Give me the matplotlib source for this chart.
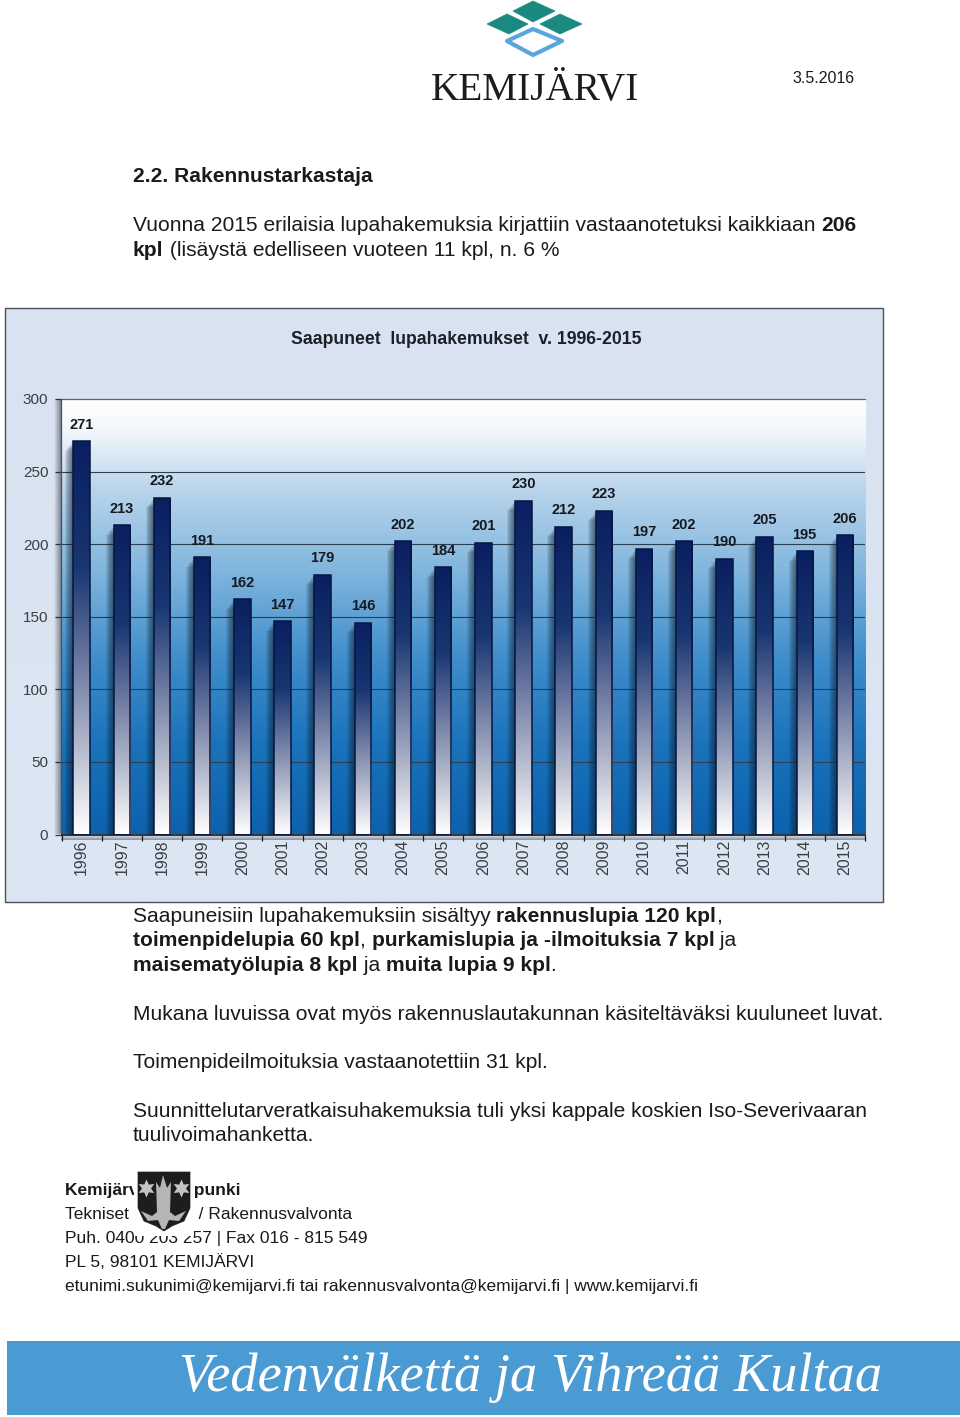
import numpy as np
import matplotlib
matplotlib.use("Agg")
import matplotlib.pyplot as plt
from matplotlib.colors import LinearSegmentedColormap
from matplotlib.patches import Polygon, Rectangle
from matplotlib.transforms import Affine2D

years = [str(y) for y in range(1996, 2016)]
permits = [271, 213, 232, 191, 162, 147, 179, 146, 202, 184, 201, 230, 212, 223, 197, 202, 190, 205, 195, 206]
yticks = [0, 50, 100, 150, 200, 250, 300]
chart_title = "Saapuneet  lupahakemukset  v. 1996-2015"

W, H = 960, 1417
SANS = "Liberation Sans"
fig = plt.figure(figsize=(W / 100, H / 100), dpi=100, facecolor="white")
bg = fig.add_axes([0, 0, 1, 1], zorder=0)
bg.set_xlim(0, W); bg.set_ylim(H, 0); bg.axis("off")
PT = 72 / 100


def vgrad(ax, extent, stops, zorder, clip=None, horizontal=False):
    cm = LinearSegmentedColormap.from_list("g", stops)
    arr = np.linspace(0, 1, 256)
    arr = arr[None, :] if horizontal else arr[:, None]
    im = ax.imshow(arr, cmap=cm, vmin=0, vmax=1, extent=extent, origin="lower" if not horizontal else "upper",
                   aspect="auto", zorder=zorder, interpolation="bilinear")
    if clip is not None:
        im.set_clip_path(clip)
    return im


# ---- chart panel
vgrad(bg, [5, 883, 902, 308], [(0, "#dde6f3"), (1, "#d8e2f0")], 1)
bg.add_patch(Rectangle((5, 308), 878, 594, fill=False, ec="#4a5058", lw=1.0, zorder=2))
vgrad(bg, [54, 61.5, 834, 399], [(0, "#d9e3f0"), (1, "#6f7783")], 2, horizontal=True)
vgrad(bg, [61, 866, 840, 835], [(0, "#8a929f"), (1, "#dbe4f1")], 2)
bg.text(466, 339, chart_title, ha="center", va="center", fontsize=17.6 * PT, fontweight="bold",
        family=SANS, color="#1c2128", zorder=3)

# ---- plot area
ax = fig.add_axes([61.5 / W, 1 - 834.5 / H, (865 - 61.5) / W, (834.5 - 399) / H], zorder=1)
x = np.arange(len(years))
ax.set_xlim(-0.5, len(years) - 0.5); ax.set_ylim(0, 300)
vgrad(ax, [-0.5, len(years) - 0.5, 0, 300],
      [(0, "#0c62ad"), (0.2, "#1a72bb"), (0.4, "#3f8dcb"), (0.6, "#7fb5dd"), (0.8, "#bcd6ec"), (0.93, "#f4f8fc"), (1, "#ffffff")], 0)
ax.set_xlim(-0.5, len(years) - 0.5); ax.set_ylim(0, 300)
for v in yticks[1:-1]:
    ax.axhline(v, color="#2c3f52", lw=0.8, zorder=1)

width = 0.41
# soft shadow to the left of each bar
for d in range(1, 9):
    tr = Affine2D().translate(-d, -d * 1.2)
    for b in ax.bar(x, permits, width=width, color="#0c1a28", alpha=0.095, lw=0, zorder=2):
        b.set_transform(ax.transData + tr)
# bars with a vertical gradient fill
bars = ax.bar(x, permits, width=width, color="none", edgecolor="#07153f", lw=1.1, zorder=4)
stops = [(0, "#ffffff"), (0.22, "#b4bacd"), (0.45, "#67759f"), (0.68, "#183671"), (1, "#0a1f60")]
for b, v in zip(bars, permits):
    vgrad(ax, [b.get_x(), b.get_x() + b.get_width(), 0, v], stops, 3, clip=b)
for xi, v in zip(x, permits):
    ax.annotate(str(v), (xi, v), xytext=(0, 16.5 * PT), textcoords="offset points", ha="center", va="center",
                fontsize=14.6 * PT, fontweight="bold", family=SANS, color="#16191e", zorder=5)
ax.set_xlim(-0.5, len(years) - 0.5); ax.set_ylim(0, 300)

ax.set_yticks(yticks)
ax.set_yticklabels([str(t) for t in yticks], family=SANS, fontsize=15.2 * PT, color="#3a3f46")
ax.set_xticks(x)
ax.set_xticklabels(years, rotation=90, family=SANS, fontsize=16 * PT, color="#3a3f46")
ax.set_xticks(np.arange(-0.5, len(years)), minor=True)
ax.tick_params(axis="x", which="major", length=0, pad=3.7)
ax.tick_params(axis="x", which="minor", length=4, width=0.9, color="#15181c")
ax.tick_params(axis="y", length=4, width=0.9, color="#2c3138", pad=5.5)
ax.spines["right"].set_visible(False)
ax.spines["top"].set_color("#5b636e"); ax.spines["top"].set_linewidth(0.9)
ax.spines["left"].set_color("#4a5058"); ax.spines["left"].set_linewidth(0.9)
ax.spines["bottom"].set_color("#101418"); ax.spines["bottom"].set_linewidth(1.2)

# ---- document text
renderer = fig.canvas.get_renderer()


def width_of(s, size, bold):
    t = bg.text(0, 0, s + ".", fontsize=size * PT, family=SANS, fontweight="bold" if bold else "normal")
    a = t.get_window_extent(renderer).width
    t.set_text(".")
    c = t.get_window_extent(renderer).width
    t.remove()
    return a - c


def line(x0, base, parts, size=21.05, color="#1a1a1a"):
    for s, bold in parts:
        bg.text(x0, base, s, fontsize=size * PT, family=SANS, va="baseline", ha="left",
                fontweight="bold" if bold else "normal", color=color, zorder=3)
        x0 += width_of(s, size, bold)


line(792, 83, [("3.5.2016", False)], size=16.0)
line(133, 182, [("2.2. Rakennustarkastaja", True)])
line(133, 231, [("Vuonna 2015 erilaisia lupahakemuksia kirjattiin vastaanotetuksi kaikkiaan ", False), ("206", True)])
line(133, 256, [("kpl", True), (" (lisäystä edelliseen vuoteen 11 kpl, n. 6 %", False)])
line(133, 922, [("Saapuneisiin lupahakemuksiin sisältyy ", False), ("rakennuslupia 120 kpl", True), (",", False)])
line(133, 946, [("toimenpidelupia 60 kpl", True), (", ", False), ("purkamislupia ja -ilmoituksia 7 kpl", True), (" ja", False)])
line(133, 971, [("maisematyölupia 8 kpl", True), (" ja ", False), ("muita lupia 9 kpl", True), (".", False)])
line(133, 1020, [("Mukana luvuissa ovat myös rakennuslautakunnan käsiteltäväksi kuuluneet luvat.", False)])
line(133, 1068, [("Toimenpideilmoituksia vastaanotettiin 31 kpl.", False)])
line(133, 1117, [("Suunnittelutarveratkaisuhakemuksia tuli yksi kappale koskien Iso-Severivaaran", False)])
line(133, 1141, [("tuulivoimahanketta.", False)])

F = 17.43
line(65, 1195, [("Kemijärven kaupunki", True)], size=F)
line(65, 1219, [("Tekniset palvelut / Rakennusvalvonta", False)], size=F)
line(65, 1243, [("Puh. 0400 203 257 | Fax 016 - 815 549", False)], size=F)
line(65, 1267, [("PL 5, 98101 KEMIJÄRVI", False)], size=F)
line(65, 1291, [("etunimi.sukunimi@kemijarvi.fi tai rakennusvalvonta@kemijarvi.fi | www.kemijarvi.fi", False)], size=F)

# ---- logo
teal = "#1a8a80"
for pts in ([(513, 11), (533, 1), (555, 11), (533, 22)],
            [(487, 24), (507, 14), (528, 24), (509, 34)],
            [(540, 24), (560, 14), (582, 24), (560, 34)]):
    bg.add_patch(Polygon(pts, closed=True, fc=teal, ec=teal, lw=0.5, zorder=3, joinstyle="round"))
bg.add_patch(Polygon([(507, 41), (533, 29), (562, 41), (533, 55)], closed=True, fc="white",
                     ec="#5aa5dc", lw=3, zorder=3, joinstyle="round"))
bg.text(534.5, 100, "KEMIJÄRVI", fontsize=39.2 * PT, family="Liberation Serif", ha="center", va="baseline",
        color="#1c1c1c", zorder=3)

# ---- coat of arms on its white image background
bg.add_patch(Rectangle((134, 1170), 60, 66, fc="white", ec="none", zorder=5))
bg.add_patch(Polygon([(138, 1172), (190, 1172), (190, 1208), (184, 1221), (172, 1226), (164, 1231),
                      (156, 1226), (144, 1221), (138, 1208)], closed=True, fc="#1d1d1d", ec="#1d1d1d", lw=0.5, zorder=6))
bg.add_patch(Polygon([(157, 1212), (156, 1182), (160, 1188), (163, 1175), (167, 1188), (171, 1182), (170, 1212),
                      (175, 1216), (186, 1211), (179, 1221), (169, 1220), (165, 1229), (162, 1229), (158, 1220),
                      (148, 1221), (141, 1211), (152, 1216)], closed=True, fc="#b5b5b5", ec="none", zorder=7))
bg.plot([146, 181], [1188, 1188], ls="none", marker=(6, 1, 0), ms=13, mfc="#c4c4c4", mec="none", zorder=7)

# ---- banner
bg.add_patch(Rectangle((7, 1341), 953, 74, fc="#4a9bd3", ec="none", zorder=3))
bg.text(531, 1391, "Vedenvälkettä ja Vihreää Kultaa", fontsize=54.4 * PT, family="Liberation Serif", style="italic",
        ha="center", va="baseline", color="white", zorder=4)

bg.set_xlim(0, W); bg.set_ylim(H, 0)
fig.savefig("out.png", dpi=100)
